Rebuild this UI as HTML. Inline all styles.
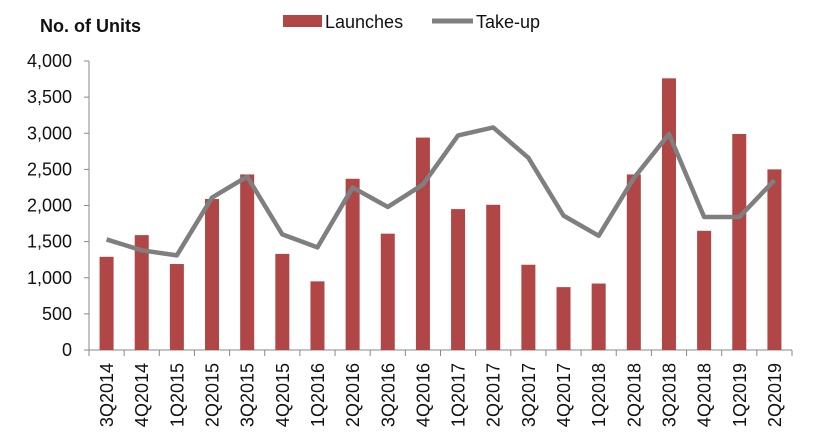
<!DOCTYPE html>
<html><head><meta charset="utf-8"><style>
body{margin:0;background:#fff;}
svg{display:block;font-family:"Liberation Sans",Arial,sans-serif;}
</style></head><body>
<svg id="chart" width="828" height="447">
<text x="40" y="32" font-size="18" font-weight="bold" fill="#111">No. of Units</text>
<g>
<rect x="283" y="15" width="39" height="12" fill="#b04646"/>
<text x="325" y="28" font-size="18" fill="#111">Launches</text>
<line x1="432" y1="21" x2="473" y2="21" stroke="#7f7f7f" stroke-width="5"/>
<text x="476" y="28" font-size="18" fill="#111">Take-up</text>
</g>
<g id="plot"></g>
</svg>
<script>
const categories=["3Q2014","4Q2014","1Q2015","2Q2015","3Q2015","4Q2015","1Q2016","2Q2016","3Q2016","4Q2016","1Q2017","2Q2017","3Q2017","4Q2017","1Q2018","2Q2018","3Q2018","4Q2018","1Q2019","2Q2019"];
const launches=[1290,1590,1190,2090,2430,1330,950,2370,1610,2940,1950,2010,1180,870,920,2430,3760,1650,2990,2500];
const takeup=[1530,1380,1310,2110,2400,1600,1420,2250,1980,2290,2970,3080,2660,1860,1580,2380,2990,1840,1840,2350];
const yTicks=[0,500,1000,1500,2000,2500,3000,3500,4000];
const yTickLabels=["0","500","1,000","1,500","2,000","2,500","3,000","3,500","4,000"];

const NS="http://www.w3.org/2000/svg";
const g=document.getElementById('plot');
const X0=89,X1=792,Y0=350,Y1=61,YMAX=4000;
const band=(X1-X0)/categories.length;
function y(v){return Y0-(v/YMAX)*(Y0-Y1);}
function xc(i){return X0+band*(i+0.5);}
function mk(tag,attrs){const e=document.createElementNS(NS,tag);for(const k in attrs)e.setAttribute(k,attrs[k]);g.appendChild(e);return e;}

let ax=mk('line',{x1:X0,y1:Y1,x2:X0,y2:Y0+5,stroke:'#888','stroke-width':1});


let bx=mk('line',{x1:X0-5,y1:Y0,x2:X1,y2:Y0,stroke:'#888','stroke-width':1});


yTicks.forEach((v,i)=>{
  const t=mk('line',{x1:X0-5,y1:y(v),x2:X0,y2:y(v),stroke:'#888'});
  
  
  const l=mk('text',{x:72,y:y(v)+6,'font-size':18,'text-anchor':'end',fill:'#111'});
  l.textContent=yTickLabels[i];
  
  
});
for(let i=0;i<=categories.length;i++){
  const t=mk('line',{x1:X0+band*i,y1:Y0,x2:X0+band*i,y2:Y0+6,stroke:'#888'});
  
  
}
categories.forEach((c,i)=>{
  const b=mk('rect',{x:xc(i)-7,y:y(launches[i]),width:14,height:Y0-y(launches[i]),fill:'#b04646'});
  
  
  const l=mk('text',{transform:`translate(${xc(i)+6.5},363) rotate(-90)`,'font-size':18,'text-anchor':'end',fill:'#111'});
  l.textContent=c;
  
  
});
const pts=takeup.map((v,i)=>xc(i)+','+y(v)).join(' ');
const pl=mk('polyline',{points:pts,fill:'none',stroke:'#7f7f7f','stroke-width':4.5,'stroke-linejoin':'round'});


</script>
</body></html>
